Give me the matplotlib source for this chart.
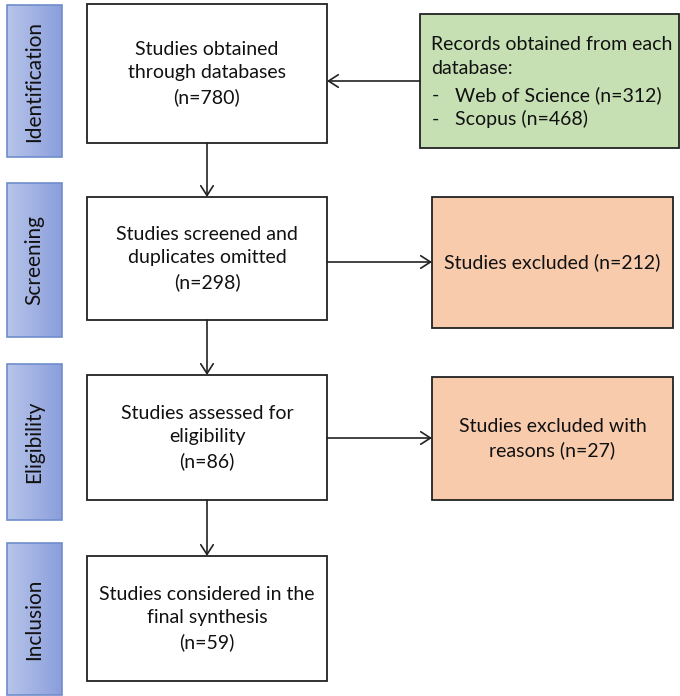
import numpy as np
import matplotlib
matplotlib.use("Agg")
import matplotlib.pyplot as plt
from matplotlib.patches import Rectangle, FancyArrowPatch
from matplotlib.colors import LinearSegmentedColormap

# ---- data ----
stages = ["Identification", "Screening", "Eligibility", "Inclusion"]
main_labels = ["Studies obtained\nthrough databases", "Studies screened and\nduplicates omitted",
               "Studies assessed for\neligibility", "Studies considered in the\nfinal synthesis"]
main_counts = [780, 298, 86, 59]
db_names = ["Web of Science", "Scopus"]
db_counts = [312, 468]
excluded_labels = ["Studies excluded (n={})", "Studies excluded with\nreasons (n={})"]
excluded_counts = [212, 27]

W, H = 680, 696
fig = plt.figure(figsize=(W / 100, H / 100), dpi=100)
ax = fig.add_axes([0, 0, 1, 1])
ax.set_xlim(0, W)
ax.set_ylim(H, 0)
ax.axis("off")

FONT = "Lato"
FS = 14.0
TXT = "#111111"
LS = 1.45

# side stage boxes
side_y = [(5, 157), (183, 337), (364, 520), (543, 695)]
cmap = LinearSegmentedColormap.from_list("side", ["#b7c5ea", "#8b9edb"])
grad = np.linspace(0, 1, 64).reshape(1, -1)
for name, (y0, y1) in zip(stages, side_y):
    x0, x1 = 7, 62
    im = ax.imshow(grad, cmap=cmap, extent=(x0, x1, y1, y0), aspect="auto", zorder=1)
    rect = Rectangle((x0, y0), x1 - x0, y1 - y0, fill=False, edgecolor="#6f8dcc", lw=1.2, zorder=2)
    ax.add_patch(rect)
    im.set_clip_path(rect)
    ax.text((x0 + x1) / 2, (y0 + y1) / 2, name, rotation=90, ha="center", va="center",
            fontsize=15, family=FONT, color=TXT, zorder=3)

# main boxes
main_y = [(4, 143), (197, 320), (375, 500), (556, 681)]
mx0, mx1 = 87, 327
for lab, n, (y0, y1) in zip(main_labels, main_counts, main_y):
    ax.add_patch(Rectangle((mx0, y0), mx1 - mx0, y1 - y0, facecolor="white", edgecolor="#222222", lw=1.3, zorder=2))
    ax.text((mx0 + mx1) / 2, (y0 + y1) / 2, f"{lab}\n(n={n})", ha="center", va="center",
            fontsize=FS, family=FONT, color=TXT, linespacing=LS, zorder=3)

# green database box
gx0, gx1, gy0, gy1 = 420, 679, 14, 148
ax.add_patch(Rectangle((gx0, gy0), gx1 - gx0, gy1 - gy0, facecolor="#c6e0b4", edgecolor="#222222", lw=1.3, zorder=2))
ax.text(gx0 + 11, 44, "Records obtained from each", ha="left", va="center",
        fontsize=FS, family=FONT, color=TXT, zorder=3)
ax.text(gx0 + 11, 69, "database:", ha="left", va="center",
        fontsize=FS, family=FONT, color=TXT, zorder=3)
for i, (nm, c) in enumerate(zip(db_names, db_counts)):
    yy = 95 + i * 24
    ax.text(gx0 + 12, yy, "-", ha="left", va="center", fontsize=FS, family=FONT, color=TXT, zorder=3)
    ax.text(gx0 + 35, yy, f"{nm} (n={c})", ha="left", va="center", fontsize=FS, family=FONT, color=TXT, zorder=3)

# orange exclusion boxes
ox0, ox1 = 432, 673
ex_y = [(197, 328), (377, 500)]
for lab, n, (y0, y1) in zip(excluded_labels, excluded_counts, ex_y):
    ax.add_patch(Rectangle((ox0, y0), ox1 - ox0, y1 - y0, facecolor="#f8cbad", edgecolor="#222222", lw=1.3, zorder=2))
    ax.text((ox0 + ox1) / 2, (y0 + y1) / 2, lab.format(n), ha="center", va="center",
            fontsize=FS, family=FONT, color=TXT, linespacing=LS, zorder=3)

def arrow(p0, p1):
    ax.add_patch(FancyArrowPatch(p0, p1, arrowstyle="->,head_length=7,head_width=4.5",
                                 color="#222222", lw=1.2, shrinkA=0, shrinkB=0, zorder=4,
                                 mutation_scale=1))

cx = (mx0 + mx1) / 2
for (a0, a1), (b0, b1) in zip(main_y[:-1], main_y[1:]):
    arrow((cx, a1), (cx, b0))
arrow((gx0, 81), (mx1, 81))
arrow((mx1, 262), (ox0, 262))
arrow((mx1, 438), (ox0, 438))

fig.savefig("out.png", dpi=100)
